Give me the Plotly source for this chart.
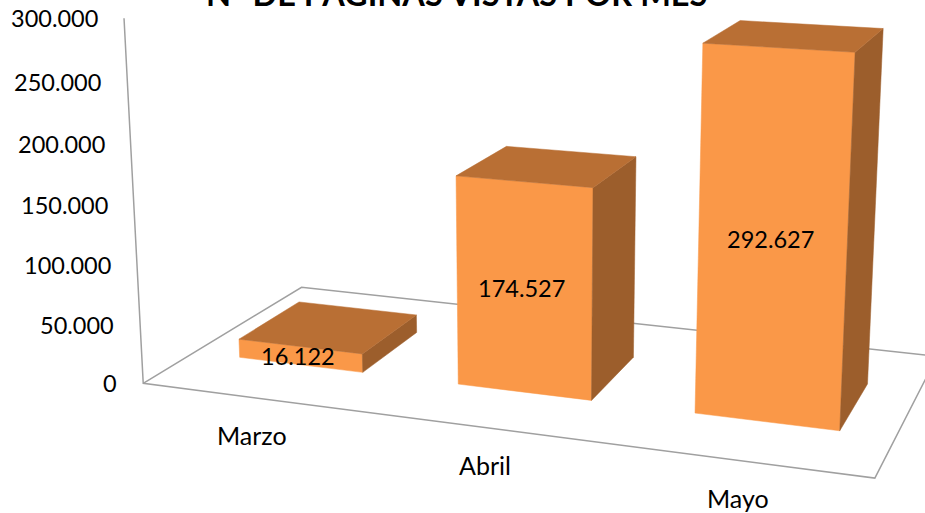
import numpy as np
import plotly.graph_objects as go

categories = ["Marzo", "Abril", "Mayo"]
values = [16122, 174527, 292627]
value_labels = ["16.122", "174.527", "292.627"]
tick_values = [0, 50000, 100000, 150000, 200000, 250000, 300000]
tick_labels = ["0", "50.000", "100.000", "150.000", "200.000", "250.000", "300.000"]
title_text = "N° DE PÁGINAS VISTAS POR MES"

AXIS_MAX = tick_values[-1]
FRONT, TOP, SIDE, LINE = "#FA9848", "#B96F34", "#9C5E2C", "#A0A0A0"
FONT = dict(family="Lato", size=23.5, color="black")
CATEGORY_FONT = dict(family="Lato", size=25, color="black")

# Perspective camera of the 3-D column chart: (category, depth, value/axis max, 1) -> screen
CAMERA = np.array([
    [208.8985, 207.3687, -24.97353, 143.2329],
    [12.47406, -49.31376, -365.8978, 383.3413],
    [-0.03997339, 0.1626783, -0.0464722, 1.0],
])
BAR_WIDTH, DEPTH_FRONT, DEPTH_BACK = 0.5727273, 0.2955849, 0.6881287


def project(points):
    p = np.atleast_2d(np.array(points, dtype=float))
    h = np.c_[p[:, 0], p[:, 1], p[:, 2] / AXIS_MAX, np.ones(len(p))]
    q = h @ CAMERA.T
    return q[:, :2] / q[:, [2]]


fig = go.Figure()


def add_outline(points):
    q = project(points)
    fig.add_trace(go.Scatter(x=q[:, 0], y=q[:, 1], mode="lines",
                             line=dict(color=LINE, width=1.5), hoverinfo="skip"))


def add_face(points, color):
    q = project(points)
    fig.add_trace(go.Scatter(x=q[:, 0], y=q[:, 1], mode="lines", fill="toself", fillcolor=color,
                             line=dict(color=color, width=0.5), hoverinfo="skip"))


n = len(categories)
add_outline([(0, 0, AXIS_MAX), (0, 0, 0), (n, 0, 0), (n, 1, 0), (0, 1, 0), (0, 0, 0)])

y0, y1 = DEPTH_FRONT, DEPTH_BACK
for i, v in enumerate(values):
    a, b = i + .5 - BAR_WIDTH / 2, i + .5 + BAR_WIDTH / 2
    add_face([(a, y0, 0), (b, y0, 0), (b, y0, v), (a, y0, v), (a, y0, 0)], FRONT)
    add_face([(b, y0, 0), (b, y1, 0), (b, y1, v), (b, y0, v), (b, y0, 0)], SIDE)
    add_face([(a, y0, v), (b, y0, v), (b, y1, v), (a, y1, v), (a, y0, v)], TOP)

annotations = []
for tv, tl in zip(tick_values, tick_labels):
    q = project((0, 0, tv))[0]
    annotations.append(dict(x=q[0], y=q[1], text=tl, xanchor="right", xshift=-24, showarrow=False, font=FONT))
for i, (v, label) in enumerate(zip(values, value_labels)):
    q = project((i + .5, y0, v / 2))[0]
    annotations.append(dict(x=q[0], y=q[1], text=label, xshift=-2, showarrow=False, font=FONT))
for i, label in enumerate(categories):
    q = project((i + .5, 0, 0))[0]
    annotations.append(dict(x=q[0], y=q[1], text=label, xshift=-1, yshift=-37, showarrow=False, font=CATEGORY_FONT))
annotations.append(dict(text=title_text, xref="paper", yref="paper", x=.4935, y=1, xanchor="center",
                        yanchor="bottom", yshift=-15, showarrow=False,
                        font=dict(family="Lato", size=32.5, color="black", weight="bold")))

fig.update_layout(width=925, height=513, showlegend=False, margin=dict(l=0, r=0, t=0, b=0),
                  paper_bgcolor="white", plot_bgcolor="white", annotations=annotations,
                  xaxis=dict(visible=False, range=[0, 925]), yaxis=dict(visible=False, range=[513, 0]))
fig.write_html("out.html", post_script="document.body.style.margin='0';", config=dict(displayModeBar=False))
